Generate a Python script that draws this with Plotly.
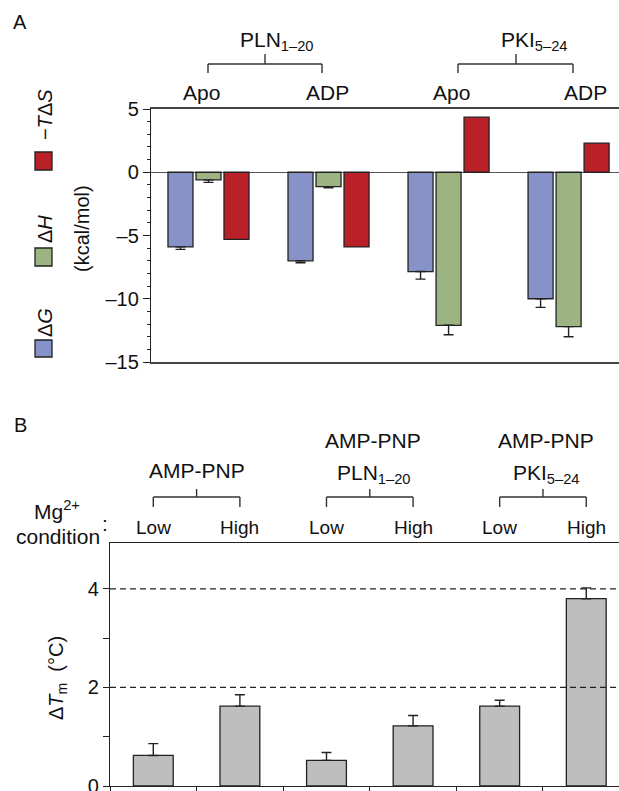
import plotly.graph_objects as go

W, H = 619, 791
MB = 5
PH = H - MB  # paper height in px


def px(x):
    return x / W


def py(y):
    return (PH - y) / PH


FONT = "Liberation Sans, Arial, Helvetica, sans-serif"
INK = "#222222"

# ---------------- Panel A data ----------------
groups_a = ["PLN Apo", "PLN ADP", "PKI Apo", "PKI ADP"]
peptides_a = ["PLN<sub>1–20</sub>", "PKI<sub>5–24</sub>"]
states_a = ["Apo", "ADP", "Apo", "ADP"]
series_names_a = ["Δ<i>G</i>", "Δ<i>H</i>", "−<i>T</i>Δ<i>S</i>"]
series_colors_a = ["#8692C8", "#9BB482", "#B92028"]
dG = [-5.9, -7.0, -7.85, -10.0]
dG_err = [0.2, 0.15, 0.6, 0.68]
dH = [-0.6, -1.14, -12.1, -12.2]
dH_err = [0.2, 0.08, 0.75, 0.8]
TdS = [-5.3, -5.9, 4.35, 2.3]
TdS_err = [0.0, 0.0, 0.0, 0.0]
yticks_a = [5, 0, -5, -10, -15]
yticklabels_a = ["5", "0", "–5", "–10", "–15"]
ytitle_a = "(kcal/mol)"

# ---------------- Panel B data ----------------
cats_b = ["AMP-PNP Low", "AMP-PNP High", "PLN Low", "PLN High", "PKI Low", "PKI High"]
conditions_b = ["Low", "High", "Low", "High", "Low", "High"]
ligand_line1_b = ["", "AMP-PNP", "AMP-PNP"]
ligand_line2_b = ["AMP-PNP", "PLN<sub>1–20</sub>", "PKI<sub>5–24</sub>"]
dTm = [0.62, 1.62, 0.52, 1.22, 1.62, 3.8]
dTm_err = [0.24, 0.23, 0.16, 0.21, 0.12, 0.22]
yticks_b = [0, 1, 2, 3, 4]
yticklabels_b = ["0", " ", "2", " ", "4"]
ref_lines_b = [2, 4]
ytitle_b = "Δ<i>T</i><sub>m</sub>  (°C)"

# ---------------- geometry ----------------
XA_DOM = [px(151), 1.0]
YA_DOM = [py(362), py(109)]
XA_RANGE = [-0.479, 3.42]
XB_DOM = [px(110), 1.0]
YB_DOM = [0.0, py(543)]
XB_RANGE = [-0.5, 5.378]
YB_RANGE = [0, 4.93]

fig = go.Figure()

series_a = [(dG, dG_err), (dH, dH_err), (TdS, TdS_err)]
for name, color, (vals, errs) in zip(series_names_a, series_colors_a, series_a):
    fig.add_trace(go.Bar(
        x=groups_a, y=vals, name=name,
        marker=dict(color=color, line=dict(color=INK, width=1.3)),
        error_y=dict(type="data", symmetric=False,
                     array=[e if v > 0 else 0 for v, e in zip(vals, errs)],
                     arrayminus=[e if v < 0 else 0 for v, e in zip(vals, errs)],
                     color=INK, thickness=1.4, width=5,
                     visible=any(e > 0 for e in errs)),
        xaxis="x", yaxis="y",
    ))

fig.add_trace(go.Bar(
    x=cats_b, y=dTm, width=0.46,
    marker=dict(color="#BEBEBE", line=dict(color=INK, width=1.3)),
    error_y=dict(type="data", symmetric=False,
                 array=dTm_err, arrayminus=[0] * len(dTm_err),
                 color=INK, thickness=1.4, width=5),
    xaxis="x2", yaxis="y2",
))

annotations = []
shapes = []


def text(x, y, t, size=20, angle=0, xanchor="center", yanchor="middle"):
    annotations.append(dict(x=x, y=y, xref="paper", yref="paper", text=t,
                            showarrow=False, textangle=angle,
                            xanchor=xanchor, yanchor=yanchor,
                            font=dict(family=FONT, size=size, color="#111111")))


def seg(x0, y0, x1, y1, w=1.4):
    shapes.append(dict(type="line", xref="paper", yref="paper",
                       x0=px(x0), y0=py(y0), x1=px(x1), y1=py(y1),
                       line=dict(color="#333333", width=w)))


def bracket(xl, xr, xc, ybar, yleg, ytop):
    seg(xl, ybar, xr, ybar)
    seg(xl, ybar, xl, yleg)
    seg(xr, ybar, xr, yleg)
    seg(xc, ybar, xc, ytop)


# ---- Panel A labels ----
text(px(20), py(22), "A", size=20)
pep_x_a = [277, 534]
bracket_a = [(208, 322, 265), (458, 573, 516)]
for pep, xc, (xl, xr, xm) in zip(peptides_a, pep_x_a, bracket_a):
    text(px(xc), py(41), pep, size=21)
    bracket(xl, xr, xm, 64, 73, 54)
state_x_a = [201, 327, 451, 585]
for s, xs in zip(states_a, state_x_a):
    text(px(xs), py(92), s, size=21)

# legend (rotated) at left
leg_text_y = [323, 229, 115]
leg_box_y = [(340, 357), (248, 266), (152, 170)]
for name, color, ty, (b0, b1) in zip(series_names_a, series_colors_a, leg_text_y, leg_box_y):
    shapes.append(dict(type="rect", xref="paper", yref="paper",
                       x0=px(35), x1=px(52), y0=py(b1), y1=py(b0),
                       fillcolor=color, line=dict(color=INK, width=1.3)))
    text(px(45), py(ty), name, size=20, angle=-90)
text(px(82), py(229), ytitle_a, size=20, angle=-90)

# ---- Panel B labels ----
text(px(20), py(425), "B", size=20)
b_px_per = (W * (XB_DOM[1] - XB_DOM[0])) / (XB_RANGE[1] - XB_RANGE[0])


def bx(i):
    return 110 + (i - XB_RANGE[0]) * b_px_per


for i, c in enumerate(conditions_b):
    text(px(bx(i)), py(527), c, size=19)
for g in range(3):
    xl, xr = bx(2 * g), bx(2 * g + 1)
    xc = (xl + xr) / 2
    bracket(xl, xr, xc, 497, 507, 489)
    if ligand_line1_b[g]:
        text(px(xc + 3), py(440), ligand_line1_b[g], size=21)
        text(px(xc + 4), py(474), ligand_line2_b[g], size=21)
    else:
        text(px(xc), py(470), ligand_line2_b[g], size=21)

text(px(57), py(510), "Mg<sup>2+</sup>", size=21)
text(px(58), py(536), "condition", size=21)
text(px(105), py(523), ":", size=21)
text(px(57), py(678), ytitle_b, size=20, angle=-90)

for v in ref_lines_b:
    shapes.append(dict(type="line", xref="x2 domain", yref="y2", x0=0, x1=1, y0=v, y1=v,
                       line=dict(color=INK, width=1.2, dash="6px,4px")))

axis_font = dict(family=FONT, size=20, color="#111111")

fig.update_layout(
    width=W, height=H,
    margin=dict(l=0, r=0, t=0, b=MB),
    paper_bgcolor="white", plot_bgcolor="white",
    showlegend=False,
    barmode="group", bargap=0.3, bargroupgap=0.107,
    font=dict(family=FONT, size=20, color="#111111"),
    xaxis=dict(domain=XA_DOM, anchor="y", range=XA_RANGE, type="category",
               showticklabels=False, ticks="", showgrid=False,
               showline=True, mirror=True, linecolor="#444444", linewidth=1.5,
               zeroline=False, automargin=False),
    yaxis=dict(domain=YA_DOM, anchor="x", range=[-15, 5],
               tickmode="array", tickvals=yticks_a, ticktext=yticklabels_a,
               ticks="outside", ticklen=7, tickwidth=1.2, tickcolor=INK,
               minor=dict(tickmode="linear", tick0=0, dtick=1, ticks="outside",
                          ticklen=3, tickwidth=1, tickcolor=INK, showgrid=False),
               showgrid=False, showline=True, linecolor=INK, linewidth=1.3,
               zeroline=True, zerolinecolor="#555555", zerolinewidth=1.2,
               tickfont=axis_font, automargin=False),
    xaxis2=dict(domain=XB_DOM, anchor="y2", range=XB_RANGE, type="category",
                tickson="boundaries", ticks="outside", ticklen=6, tickwidth=1.2,
                tickcolor=INK, showticklabels=False, showgrid=False,
                showline=True, mirror=True, linecolor=INK, linewidth=1.3,
                zeroline=False, automargin=False),
    yaxis2=dict(domain=YB_DOM, anchor="x2", range=YB_RANGE,
                tickmode="array", tickvals=yticks_b, ticktext=yticklabels_b,
                ticks="outside", ticklen=6, tickwidth=1.2, tickcolor=INK,
                ticklabeloverflow="allow",
                showgrid=False, showline=True, linecolor=INK, linewidth=1.3,
                zeroline=False, tickfont=axis_font, automargin=False),
    annotations=annotations,
    shapes=shapes,
)

fig.write_html(
    "out.html",
    config={"displayModeBar": False},
    post_script="document.body.style.margin='0';document.body.style.padding='0';",
)
